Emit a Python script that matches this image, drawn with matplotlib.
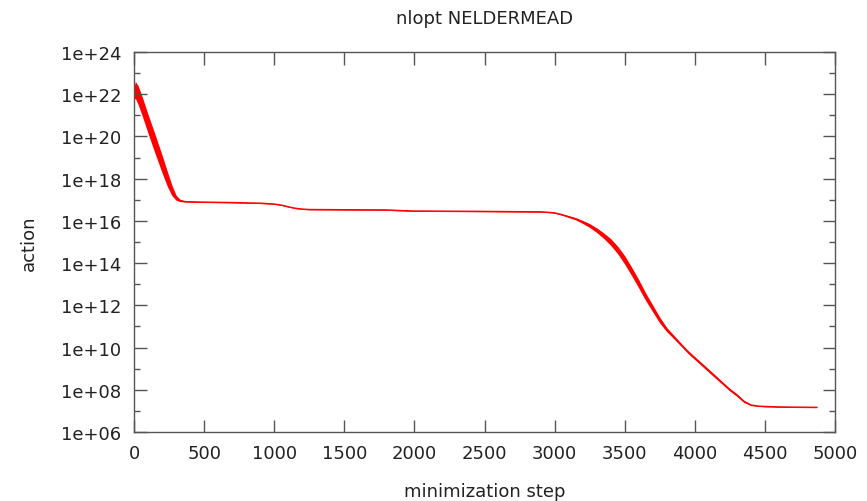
import numpy as np
import matplotlib.pyplot as plt
from matplotlib.ticker import FixedLocator, FuncFormatter, NullFormatter

# action vs. minimization step (log10 of action)
step = [0, 10, 30, 60, 100, 150, 200, 240, 270, 300, 330, 370, 500, 700,
        900, 1000, 1050, 1100, 1150, 1200, 1250, 1500, 1800, 1900, 2000,
        2500, 2900, 2950, 3000, 3050, 3100, 3150, 3200, 3250, 3300, 3350,
        3400, 3450, 3500, 3550, 3600, 3650, 3700, 3750, 3800, 3850, 3900,
        3950, 4000, 4050, 4100, 4150, 4200, 4250, 4300, 4350, 4400, 4450,
        4500, 4600, 4700, 4870]
log_action = [22.05, 22.2, 21.95, 21.4, 20.6, 19.65, 18.7, 17.95, 17.45,
              17.1, 16.96, 16.91, 16.89, 16.87, 16.84, 16.8, 16.75, 16.67,
              16.6, 16.56, 16.54, 16.53, 16.52, 16.49, 16.47, 16.45, 16.43,
              16.41, 16.38, 16.3, 16.2, 16.1, 15.95, 15.78, 15.56, 15.3, 15.0,
              14.62, 14.15, 13.6, 13.02, 12.4, 11.85, 11.3, 10.85, 10.5,
              10.15, 9.8, 9.5, 9.2, 8.9, 8.6, 8.3, 8.0, 7.75, 7.45, 7.28,
              7.23, 7.21, 7.19, 7.18, 7.17]
# half width of the noisy band, in decades
noise = [0.3, 0.4, 0.45, 0.45, 0.45, 0.45, 0.42, 0.35, 0.25, 0.12, 0.05,
         0.02, 0.02, 0.02, 0.02, 0.02, 0.02, 0.02, 0.02, 0.02, 0.02, 0.02,
         0.02, 0.02, 0.02, 0.02, 0.02, 0.02, 0.02, 0.03, 0.04, 0.05, 0.07,
         0.09, 0.11, 0.13, 0.16, 0.18, 0.2, 0.2, 0.2, 0.18, 0.16, 0.14,
         0.1, 0.08, 0.07, 0.07, 0.07, 0.07, 0.07, 0.07, 0.06, 0.06, 0.06,
         0.05, 0.03, 0.02, 0.02, 0.02, 0.02, 0.02]

xticks = [0, 500, 1000, 1500, 2000, 2500, 3000, 3500, 4000, 4500, 5000]
yticks = [1e6, 1e8, 1e10, 1e12, 1e14, 1e16, 1e18, 1e20, 1e22, 1e24]

step = np.array(step)
mid = 10.0 ** np.array(log_action)
lo = 10.0 ** (np.array(log_action) - np.array(noise))
hi = 10.0 ** (np.array(log_action) + np.array(noise))

plt.rcParams['font.family'] = 'DejaVu Sans'
fig = plt.figure(figsize=(8.67, 5.02), dpi=100)
ax = fig.add_axes([134 / 867, 1 - 433 / 502, 701 / 867, 380 / 502])

ax.fill_between(step, lo, hi, color='red', linewidth=0)
ax.plot(step, mid, color='red', linewidth=1.0)

ax.set_yscale('log')
ax.set_xlim(0, 5000)
ax.set_ylim(1e6, 1e24)
ax.xaxis.set_major_locator(FixedLocator(xticks))
ax.yaxis.set_major_locator(FixedLocator(yticks))
ax.yaxis.set_minor_locator(FixedLocator([10.0 ** k for k in range(7, 24, 2)]))
ax.yaxis.set_minor_formatter(NullFormatter())
ax.xaxis.set_minor_locator(FixedLocator([]))
ax.yaxis.set_major_formatter(FuncFormatter(lambda v, p: '1e+%02d' % round(np.log10(v))))

for s in ax.spines.values():
    s.set_color('#555555')
    s.set_linewidth(1.0)
ax.tick_params(which='both', direction='in', top=True, right=True,
               colors='#555555', labelcolor='#222222', labelsize=13)
ax.tick_params(which='major', length=9, width=1.0, pad=9)
ax.tick_params(which='minor', length=4.5, width=1.0)

ax.set_title('nlopt NELDERMEAD', fontsize=13, color='#222222', pad=21)
ax.set_xlabel('minimization step', fontsize=13, color='#222222', labelpad=14)
ax.set_ylabel('action', fontsize=13, color='#222222', labelpad=17)

fig.savefig('out.png', dpi=100)
